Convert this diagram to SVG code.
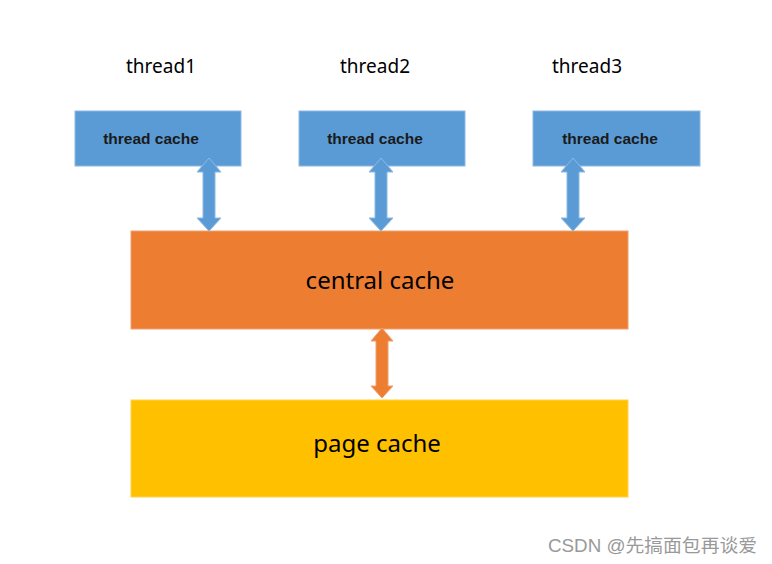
<svg xmlns="http://www.w3.org/2000/svg" width="772" height="564" viewBox="0 0 772 564">
<style>
.tc{fill:#5B9BD5;stroke:#8DB8E2;stroke-width:1}
.cc{fill:#ED7D31;stroke:#F0A070;stroke-width:1}
.pc{fill:#FFC000;stroke:#FFD24D;stroke-width:1}
.lbl{font-family:"Noto Sans","Open Sans",sans-serif;font-size:19px;fill:#000}
.tct{font-family:"Liberation Sans",Arial,sans-serif;font-weight:bold;font-size:15.5px;fill:#1a1a1a}
.big{font-family:"Noto Sans","Open Sans",sans-serif;font-size:24px;fill:#000}
.ab{fill:#5B9BD5;stroke:#8DB8E2;stroke-width:1}
.ao{fill:#ED7D31;stroke:#F0A070;stroke-width:1}
</style>
<rect width="772" height="564" fill="#fff"/>
<g id="thread1"><text class="lbl" x="161" y="73" text-anchor="middle">thread1</text></g>
<g id="thread2"><text class="lbl" x="375" y="73" text-anchor="middle">thread2</text></g>
<g id="thread3"><text class="lbl" x="587" y="73" text-anchor="middle">thread3</text></g>
<g id="threadcache1"><rect class="tc" x="75" y="111" width="166" height="55"/><text class="tct" x="151" y="144" text-anchor="middle">thread cache</text></g>
<g id="threadcache2"><rect class="tc" x="299" y="111" width="166" height="55"/><text class="tct" x="375" y="144" text-anchor="middle">thread cache</text></g>
<g id="threadcache3"><rect class="tc" x="533" y="111" width="167" height="55"/><text class="tct" x="610" y="144" text-anchor="middle">thread cache</text></g>
<g id="centralcache"><rect class="cc" x="131" y="231" width="497" height="98"/><text class="big" x="380" y="289" text-anchor="middle">central cache</text></g>
<g id="pagecache"><rect class="pc" x="131" y="400" width="497" height="97"/><text class="big" x="377" y="452" text-anchor="middle">page cache</text></g>
<g id="connectors">
<path class="ab" d="M209,158 L221,172 L215,172 L215,218 L221,218 L209,231 L197,218 L203,218 L203,172 L197,172 Z"/>
<path class="ab" d="M381,158 L393,172 L387,172 L387,218 L393,218 L381,231 L369,218 L375,218 L375,172 L369,172 Z"/>
<path class="ab" d="M573,158 L585,172 L579,172 L579,218 L585,218 L573,231 L561,218 L567,218 L567,172 L561,172 Z"/>
<path class="ao" d="M382,328 L393,341 L388,341 L388,386 L393,386 L382,398 L371,386 L376,386 L376,341 L371,341 Z"/>
</g>
<text x="548" y="552" textLength="209" lengthAdjust="spacingAndGlyphs" style="font-family:'Liberation Sans','Noto Sans CJK SC',sans-serif;font-size:18px;fill:#999">CSDN @先搞面包再谈爱</text>
</svg>
